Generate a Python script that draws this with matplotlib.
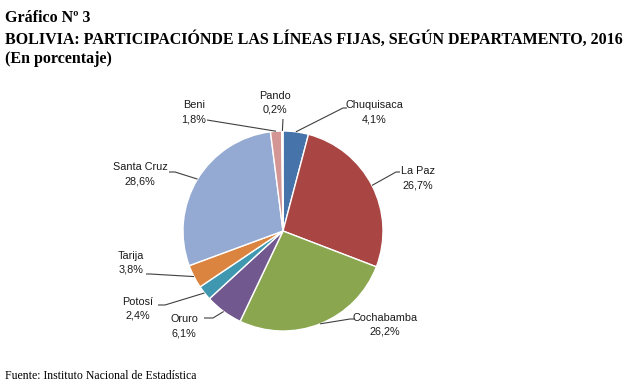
import numpy as np
import matplotlib
matplotlib.use("Agg")
import matplotlib.pyplot as plt

# ---- data ----
departments = ["Chuquisaca", "La Paz", "Cochabamba", "Oruro", "Potosí",
               "Tarija", "Santa Cruz", "Beni", "Pando"]
shares = [4.1, 26.7, 26.2, 6.1, 2.4, 3.8, 28.6, 1.8, 0.2]
share_labels = ["4,1%", "26,7%", "26,2%", "6,1%", "2,4%", "3,8%", "28,6%", "1,8%", "0,2%"]

title_lines = ["Gráfico Nº 3",
               "BOLIVIA: PARTICIPACIÓNDE LAS LÍNEAS FIJAS, SEGÚN DEPARTAMENTO, 2016",
               "(En porcentaje)"]
source = "Fuente: Instituto Nacional de Estadística"

colors = ["#4673AA", "#A94643", "#8AA64F", "#71598F", "#4098B0",
          "#DB843F", "#94AAD2", "#D49695", "#B9CD96"]

# ---- layout (pixel coordinates, y from top) ----
W, H = 640, 383
CX, CY, R = 283, 231, 100
label_pos = {
    "Chuquisaca": ((374, 105), [(343, 108), (347, 108)]),
    "La Paz":     ((418, 171), [(396, 172), (400, 172)]),
    "Cochabamba": ((385, 318), [(350, 319), (354, 319)]),
    "Oruro":      ((184, 319), [(213, 318), (204, 318)]),
    "Potosí":     ((138, 302), [(165, 305), (158, 305)]),
    "Tarija":     ((131, 256), [(150, 274), (146, 274)]),
    "Santa Cruz": ((140, 167), [(175, 172), (169, 172)]),
    "Beni":       ((194, 105), [(207, 120), (207, 120)]),
    "Pando":      ((275, 96),  [(283, 119), (283, 119)]),
}

label_fonts = ["Liberation Sans Narrow", "Liberation Sans", "DejaVu Sans"]
serif_fonts = ["Liberation Serif", "DejaVu Serif"]

fig = plt.figure(figsize=(W / 100, H / 100), dpi=100)
ax = fig.add_axes([0, 0, 1, 1])

def Y(y):
    return H - y

wedges, _ = ax.pie(shares, colors=colors, startangle=90, counterclock=False,
                   center=(CX, Y(CY)), radius=R, frame=False,
                   wedgeprops=dict(edgecolor="white", linewidth=1.0))
ax.set_xlim(0, W)
ax.set_ylim(0, H)
ax.set_aspect("equal")
ax.axis("off")

for w, name, lab in zip(wedges, departments, share_labels):
    mid = np.deg2rad((w.theta1 + w.theta2) / 2)
    ex, ey = CX + R * np.cos(mid), Y(CY) + R * np.sin(mid)
    (tx, ty), pts = label_pos[name]
    xs = [ex] + [p[0] for p in pts]
    ys = [ey] + [Y(p[1]) for p in pts]
    ax.plot(xs, ys, color="#404040", lw=0.8, solid_capstyle="butt")
    ax.text(tx, Y(ty), name, ha="center", va="center", fontsize=7.8,
            family=label_fonts, color="#1a1a1a")
    ax.text(tx, Y(ty + 14), lab, ha="center", va="center", fontsize=7.8,
            family=label_fonts, color="#1a1a1a")

ax.text(5, Y(18), title_lines[0], ha="left", va="center", fontsize=11.5,
        fontweight="bold", family=serif_fonts)
ax.text(5, Y(40), title_lines[1], ha="left", va="center", fontsize=11.5,
        fontweight="bold", family=serif_fonts)
ax.text(5, Y(59), title_lines[2], ha="left", va="center", fontsize=11.5,
        fontweight="bold", family=serif_fonts)
ax.text(5, Y(376), source, ha="left", va="center", fontsize=8.5,
        family=serif_fonts)

fig.savefig("out.png", dpi=100, facecolor="white")
